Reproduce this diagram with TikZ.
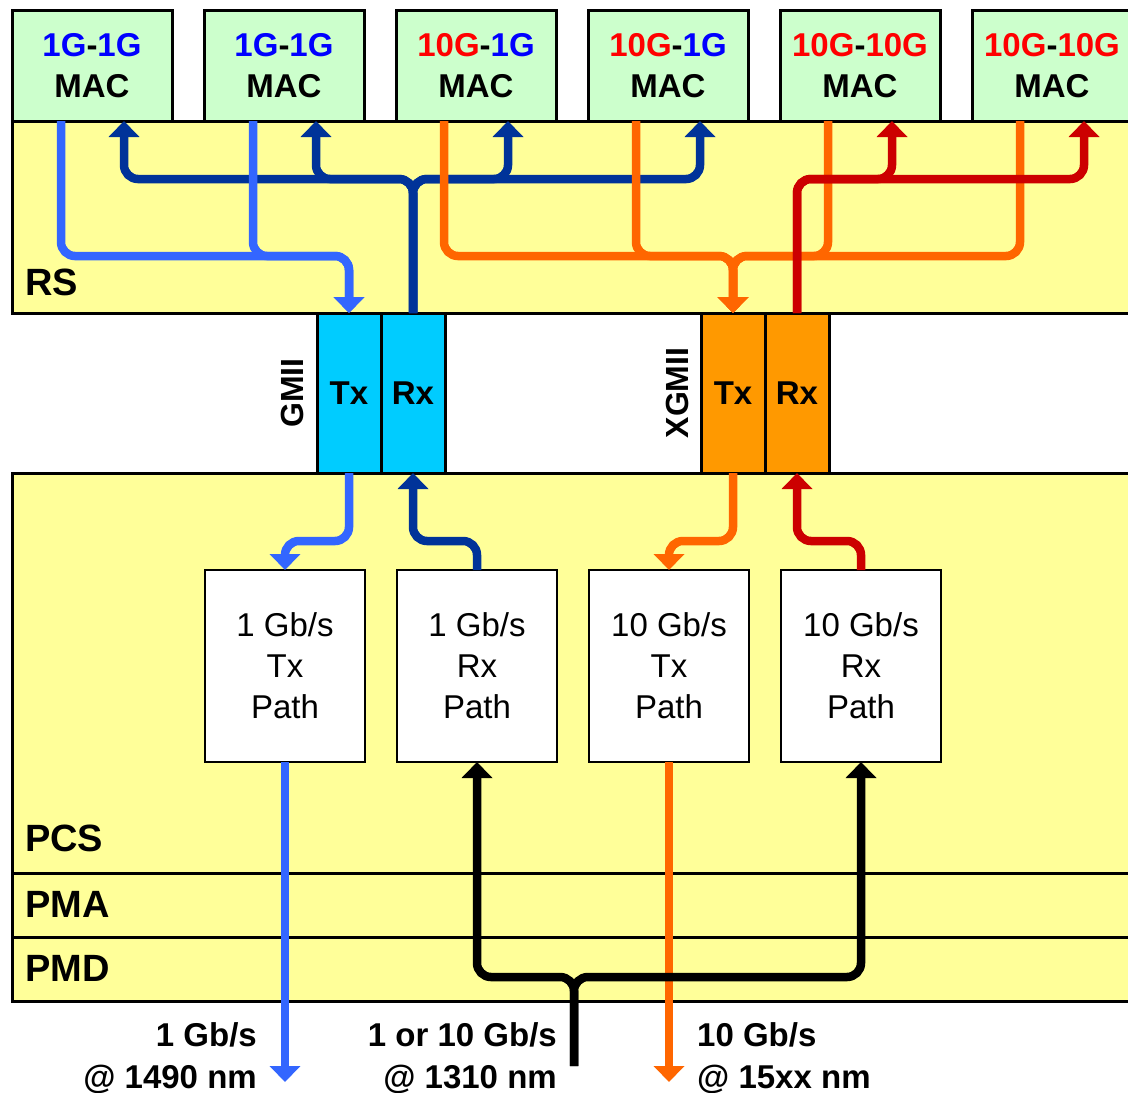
\documentclass[tikz,border=0pt]{standalone}
\usepackage{fontspec}
\setmainfont{Liberation Sans}
\usepackage{tikz}
\usetikzlibrary{arrows.meta,positioning}
\definecolor{macgreen}{HTML}{CCFFCC}
\definecolor{layeryellow}{HTML}{FFFF99}
\definecolor{gmiicyan}{HTML}{00CCFF}
\definecolor{xgmiiorange}{HTML}{FF9900}
\definecolor{txblue}{HTML}{3366FF}
\definecolor{rxblue}{HTML}{003399}
\definecolor{txorange}{HTML}{FF6600}
\definecolor{rxred}{HTML}{CC0000}
\definecolor{oneblue}{HTML}{0000FF}
\definecolor{tenred}{HTML}{FF0000}
\newcommand{\onegig}{\textcolor{oneblue}{1G}}
\newcommand{\tengig}{\textcolor{tenred}{10G}}

\begin{document}
\begin{tikzpicture}[
    x=1pt, y=-1pt,
    mac/.style={draw, line width=3pt, fill=macgreen, minimum width=160pt, minimum height=111pt,
      inner sep=0pt, outer sep=0pt, align=center, font=\fontsize{33}{41}\selectfont\bfseries},
    layer/.style={draw, line width=3pt, fill=layeryellow, anchor=north west,
      minimum width=1130pt, inner sep=0pt, outer sep=0pt},
    lyrname/.style={anchor=base west, inner sep=0pt, font=\fontsize{38}{44}\selectfont\bfseries},
    cell/.style={draw, line width=3pt, minimum width=64pt, minimum height=160pt,
      inner sep=0pt, outer sep=0pt, font=\fontsize{33}{40}\selectfont\bfseries},
    ifname/.style={rotate=90, anchor=south, inner sep=0pt, font=\fontsize{32}{40}\selectfont\bfseries},
    pathbox/.style={draw, line width=2.5pt, fill=white, minimum width=160pt, minimum height=192pt,
      inner sep=0pt, outer sep=0pt, align=center, font=\fontsize{33}{41}\selectfont},
    rate/.style={inner sep=0pt, font=\fontsize{33}{42}\selectfont\bfseries},
    flow/.style={line width=8.5pt, rounded corners=14pt, -{Triangle[width=30pt,length=16pt]}}
  ]
    \useasboundingbox (0,0) rectangle (1128,1093);
    % couches
    \node[layer, minimum height=192pt] (rs) at (12,121) {};
    \node[layer, minimum height=400pt] (pcs) at (12,473) {};
    \node[layer, minimum height=64pt] (pma) at (12,873) {};
    \node[layer, minimum height=64pt] (pmd) at (12,937) {};
    \node[lyrname] (rslbl) at ([xshift=13pt,yshift=18pt]rs.south west) {RS};
    \node[lyrname] (pcslbl) at ([xshift=13pt,yshift=22pt]pcs.south west) {PCS};
    \node[lyrname] (pmalbl) at ([xshift=13pt,yshift=20pt]pma.south west) {PMA};
    \node[lyrname] (pmdlbl) at ([xshift=13pt,yshift=20pt]pmd.south west) {PMD};
    % MACs
    \node[mac, anchor=north west] (mac1) at (12,10) {\onegig-\onegig\\MAC};
    \node[mac, right=32pt of mac1] (mac2) {\onegig-\onegig\\MAC};
    \node[mac, right=32pt of mac2] (mac3) {\tengig-\onegig\\MAC};
    \node[mac, right=32pt of mac3] (mac4) {\tengig-\onegig\\MAC};
    \node[mac, right=32pt of mac4] (mac5) {\tengig-\tengig\\MAC};
    \node[mac, right=32pt of mac5] (mac6) {\tengig-\tengig\\MAC};
    % GMII / XGMII
    \node[cell, fill=gmiicyan, anchor=north west] (gtx) at (317,313) {Tx};
    \node[cell, fill=gmiicyan, right=0pt of gtx] (grx) {Rx};
    \node[ifname] (gmii) at ([xshift=-13pt]gtx.west) {GMII};
    \node[cell, fill=xgmiiorange, anchor=north west] (xtx) at (701,313) {Tx};
    \node[cell, fill=xgmiiorange, right=0pt of xtx] (xrx) {Rx};
    \node[ifname] (xgmii) at ([xshift=-12pt]xtx.west) {XGMII};
    % chemins PCS
    \node[pathbox, anchor=north west] (p1) at (205,570) {1 Gb/s\\Tx\\Path};
    \node[pathbox, right=32pt of p1] (p2) {1 Gb/s\\Rx\\Path};
    \node[pathbox, right=32pt of p2] (p3) {10 Gb/s\\Tx\\Path};
    \node[pathbox, right=32pt of p3] (p4) {10 Gb/s\\Rx\\Path};
    % RS vers MAC
    \foreach \m in {mac1,mac2,mac3,mac4}
      \draw[flow, rxblue] (grx.north) |- ([xshift=32pt,yshift=-58pt]\m.south) -- ([xshift=32pt]\m.south);
    \foreach \m in {mac1,mac2}
      \draw[flow, txblue] ([xshift=-31pt]\m.south) |- ([yshift=57pt]gtx.north) -- (gtx.north);
    \foreach \m in {mac3,mac4,mac5,mac6}
      \draw[flow, txorange] ([xshift=-32pt]\m.south) |- ([yshift=57pt]xtx.north) -- (xtx.north);
    \foreach \m in {mac5,mac6}
      \draw[flow, rxred] (xrx.north) |- ([xshift=32pt,yshift=-58pt]\m.south) -- ([xshift=32pt]\m.south);
    % interfaces vers chemins
    \draw[flow, txblue] (gtx.south) |- ([yshift=29pt]p1.north) -- (p1.north);
    \draw[flow, rxblue] (p2.north) |- ([yshift=-68pt]grx.south) -- (grx.south);
    \draw[flow, txorange] (xtx.south) |- ([yshift=29pt]p3.north) -- (p3.north);
    \draw[flow, rxred] (p4.north) |- ([yshift=-68pt]xrx.south) -- (xrx.south);
    % fibre
    \coordinate (out1g) at (285,1082);
    \coordinate (out10g) at (669,1082);
    \coordinate (fibre) at (574,1066);
    \draw[flow, txblue] (p1.south) -- (out1g);
    \draw[flow, txorange] (p3.south) -- (out10g);
    \foreach \p in {p2,p4}
      \draw[flow, black] (fibre) |- ([yshift=-215pt]\p.south) -- (\p.south);
    \node[rate, align=right, anchor=north east] (r1g) at (257,1022) {1 Gb/s\\@ 1490 nm};
    \node[rate, align=right, anchor=north east] (rmix) at (557,1022) {1 or 10 Gb/s\\@ 1310 nm};
    \node[rate, align=left, anchor=north west] (r10g) at (697,1022) {10 Gb/s\\@ 15xx nm};
  \end{tikzpicture}
\end{document}
